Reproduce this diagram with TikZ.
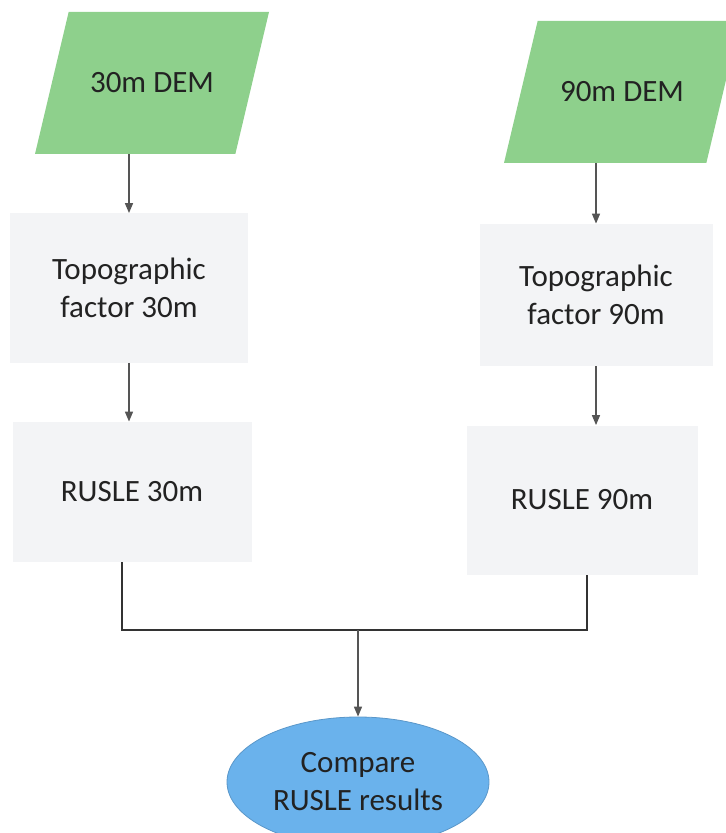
\documentclass[tikz,border=0pt]{standalone}
\usepackage{fontspec}
\setmainfont{Carlito}
\definecolor{demgreen}{RGB}{142,208,140}
\definecolor{boxgray}{RGB}{243,244,246}
\definecolor{cmpblue}{RGB}{106,178,236}
\definecolor{linegray}{RGB}{85,85,85}
\definecolor{textgray}{RGB}{34,34,34}
\usetikzlibrary{shapes.geometric,arrows.meta,calc}

\begin{document}
\begin{tikzpicture}[x=0.5pt,y=-0.5pt,
    every node/.style={text=textgray,align=center,font=\fontsize{15.5}{19}\selectfont},
    demnode/.style={trapezium,trapezium left angle=45,trapezium right angle=135,
      trapezium stretches body,fill=demgreen,minimum height=71pt,minimum width=117pt},
    stepnode/.style={rectangle,fill=boxgray},
    endnode/.style={ellipse,fill=cmpblue,draw=cmpblue!85!black,line width=0.4pt,
      minimum width=131pt,minimum height=65pt},
    arr/.style={draw=linegray,line width=0.75pt,-{Triangle[length=5pt,width=4pt]}},
    link/.style={draw=black!80,line width=0.75pt}
    ]
    \useasboundingbox (0,0) rectangle (725,833);

    % the input DEMs
    \node[demnode] (dem30) at (152,83) {30m DEM};
    \node[demnode,minimum width=118pt] (dem90) at (622,92) {90m DEM};

    % the topographic factors
    \node[stepnode,minimum width=119pt,minimum height=74.5pt] (topo30) at (129,288) {Topographic\\factor 30m};
    \node[stepnode,minimum width=116.5pt,minimum height=71pt] (topo90) at (596,295) {Topographic\\factor 90m};

    % the RUSLE runs
    \node[stepnode,minimum width=119.5pt,minimum height=70pt] (rusle30) at (132,492) {RUSLE 30m};
    \node[stepnode,minimum width=115.5pt,minimum height=74.5pt] (rusle90) at (582,500) {RUSLE 90m};

    % the comparison
    \node[endnode] (cmp) at (358,782) {Compare\\RUSLE results};
    \coordinate (join) at (358,630);

    % the arrows
    \draw[arr] (dem30.south -| topo30.north) -- (topo30.north);
    \draw[arr] (topo30.south) -- (topo30.south |- rusle30.north);
    \draw[arr] (dem90.south -| topo90.north) -- (topo90.north);
    \draw[arr] (topo90.south) -- (topo90.south |- rusle90.north);
    \draw[link] ([xshift=-5pt]rusle30.south) |- (join) -| ([xshift=2.5pt]rusle90.south);
    \draw[arr] (join) -- (cmp.north);
\end{tikzpicture}
\end{document}
